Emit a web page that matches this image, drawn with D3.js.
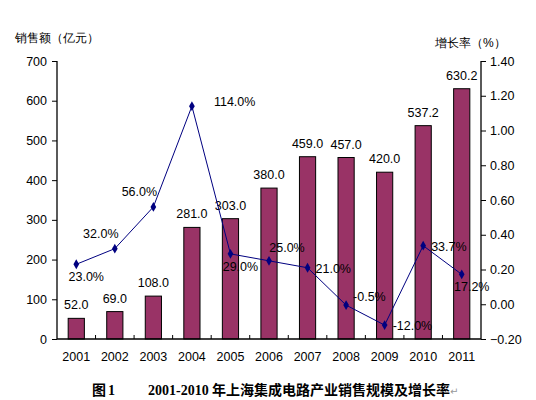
<!DOCTYPE html>
<html>
<head>
<meta charset="utf-8">
<script src="https://cdn.jsdelivr.net/npm/d3@7"></script>
<style>
  body { margin: 0; background: #fff; }
  svg text { font-family: "Liberation Sans", Arial, sans-serif; }
</style>
</head>
<body>
<div id="chart"></div>
<script>
const YEARS = ["2001", "2002", "2003", "2004", "2005", "2006", "2007", "2008", "2009", "2010", "2011"];
const SALES = [52.0, 69.0, 108.0, 281.0, 303.0, 380.0, 459.0, 457.0, 420.0, 537.2, 630.2];
const GROWTH = [23.0, 32.0, 56.0, 114.0, 29.0, 25.0, 21.0, -0.5, -12.0, 33.7, 17.2];
// where each growth label sits relative to its point
const GROWTH_LABEL_POS = ["below", "above-left", "above-left", "far-right", "below", "above", "right", "right-up", "right", "right", "below"];
const LEFT_TICKS = [0, 100, 200, 300, 400, 500, 600, 700];
const RIGHT_TICKS = [-0.2, 0, 0.2, 0.4, 0.6, 0.8, 1.0, 1.2, 1.4];

const WIDTH = 536, HEIGHT = 400;
const LEFT = 57, RIGHT = 481, TOP = 61, BOTTOM = 339;
const BAR_COLOR = "#993366";
const LINE_COLOR = "#000080";

const svg = d3.select("#chart").append("svg")
    .attr("width", WIDTH)
    .attr("height", HEIGHT);

// Scales
const x = d3.scaleBand().domain(YEARS).range([LEFT, RIGHT]).paddingInner(0.58).paddingOuter(0.29);
const yLeft = d3.scaleLinear().domain([0, 700]).range([BOTTOM, TOP]);
const yRight = d3.scaleLinear().domain([-0.2, 1.4]).range([BOTTOM, TOP]);
const cx = (d) => x(d) + x.bandwidth() / 2;

// Bars
svg.selectAll("rect.bar")
    .data(SALES)
    .enter()
    .append("rect")
    .attr("class", "bar")
    .attr("x", (d, i) => x(YEARS[i]))
    .attr("y", (d) => yLeft(d))
    .attr("width", x.bandwidth())
    .attr("height", (d) => yLeft(0) - yLeft(d))
    .attr("fill", BAR_COLOR)
    .attr("stroke", "#000")
    .attr("stroke-width", 1);

svg.selectAll("text.barlabel")
    .data(SALES)
    .enter()
    .append("text")
    .attr("class", "barlabel")
    .attr("x", (d, i) => cx(YEARS[i]))
    .attr("y", (d) => yLeft(d) - 9)
    .attr("text-anchor", "middle")
    .attr("font-size", "12.5px")
    .text((d) => d.toFixed(1));

// Axes
const leftAxis = d3.axisLeft(yLeft).tickValues(LEFT_TICKS).tickSize(5).tickFormat(d3.format("d"));
const gl = svg.append("g").attr("transform", "translate(" + LEFT + ",0)").call(leftAxis);

const rightAxis = d3.axisRight(yRight).tickValues(RIGHT_TICKS).tickSize(5).tickFormat(d3.format(".2f"));
const gr = svg.append("g").attr("transform", "translate(" + RIGHT + ",0)").call(rightAxis);

const bottomAxis = d3.axisBottom(x).tickSize(0);
const gb = svg.append("g").attr("transform", "translate(0," + BOTTOM + ")").call(bottomAxis);

// category separator ticks pointing up
svg.selectAll("line.sep")
    .data(YEARS.slice(1))
    .enter()
    .append("line")
    .attr("class", "sep")
    .attr("x1", (d) => x(d) - x.step() * x.paddingInner() / 2)
    .attr("x2", (d) => x(d) - x.step() * x.paddingInner() / 2)
    .attr("y1", BOTTOM)
    .attr("y2", BOTTOM - 4)
    .attr("stroke", "#000");

[gl, gr, gb].forEach((g) => {
    g.select(".domain").attr("stroke", "#000").attr("stroke-width", 1.3);
    g.selectAll(".tick line").attr("stroke", "#000");
    g.selectAll("text")
        .attr("font-family", "Liberation Sans, Arial, sans-serif")
        .attr("font-size", "12.5px")
        .attr("fill", "#000");
});
gl.select(".domain").attr("d", "M0," + TOP + "V" + BOTTOM);
gr.select(".domain").attr("d", "M0," + TOP + "V" + BOTTOM);
gl.selectAll(".tick text").attr("x", -10);
gr.selectAll(".tick text").attr("x", 9);
gb.selectAll(".tick text").attr("y", 13);
gb.select(".domain").attr("d", "M" + LEFT + ",0H" + RIGHT);

// Growth line
const line = d3.line()
    .x((d, i) => cx(YEARS[i]))
    .y((d) => yRight(d / 100));

svg.append("path")
    .datum(GROWTH)
    .attr("d", line)
    .attr("fill", "none")
    .attr("stroke", LINE_COLOR)
    .attr("stroke-width", 1);

svg.selectAll("path.marker")
    .data(GROWTH)
    .enter()
    .append("path")
    .attr("class", "marker")
    .attr("d", d3.symbol().type(d3.symbolDiamond).size(28))
    .attr("transform", (d, i) => "translate(" + cx(YEARS[i]) + "," + yRight(d / 100) + ")")
    .attr("fill", LINE_COLOR);

const OFFSETS = {
    "below": [10, 17, "middle"],
    "above-left": [-14, -11, "middle"],
    "above": [18, -9, "middle"],
    "right": [8, 5, "start"],
    "far-right": [22, 0, "start"],
    "right-up": [7, -4, "start"]
};
svg.selectAll("text.growth")
    .data(GROWTH)
    .enter()
    .append("text")
    .attr("class", "growth")
    .attr("x", (d, i) => cx(YEARS[i]) + OFFSETS[GROWTH_LABEL_POS[i]][0])
    .attr("y", (d, i) => yRight(d / 100) + OFFSETS[GROWTH_LABEL_POS[i]][1])
    .attr("text-anchor", (d, i) => OFFSETS[GROWTH_LABEL_POS[i]][2])
    .attr("font-size", "12.5px")
    .text((d) => d.toFixed(1) + "%");

// Axis titles
svg.append("text")
    .attr("x", 15).attr("y", 42)
    .attr("font-family", "Noto Sans CJK SC, sans-serif")
    .attr("font-size", "12px")
    .text("销售额（亿元）");

svg.append("text")
    .attr("x", 435).attr("y", 47)
    .attr("font-family", "Noto Sans CJK SC, sans-serif")
    .attr("font-size", "12px")
    .text("增长率（%）");

// Caption
const cap = svg.append("text")
    .attr("y", 395)
    .attr("font-weight", "bold")
    .attr("font-size", "14px");
cap.append("tspan").attr("x", 92)
    .attr("font-family", "Noto Sans CJK SC, sans-serif").text("图");
cap.append("tspan").attr("x", 108)
    .attr("font-family", "Liberation Serif, serif").text("1");
cap.append("tspan").attr("x", 148)
    .attr("font-family", "Liberation Serif, serif").text("2001-2010");
cap.append("tspan").attr("x", 212)
    .attr("font-family", "Noto Sans CJK SC, sans-serif").text("年上海集成电路产业销售规模及增长率");
cap.append("tspan")
    .attr("font-family", "DejaVu Sans, sans-serif").attr("font-weight", "normal")
    .attr("font-size", "10px").attr("fill", "#999").text("↵");
</script>
</body>
</html>
